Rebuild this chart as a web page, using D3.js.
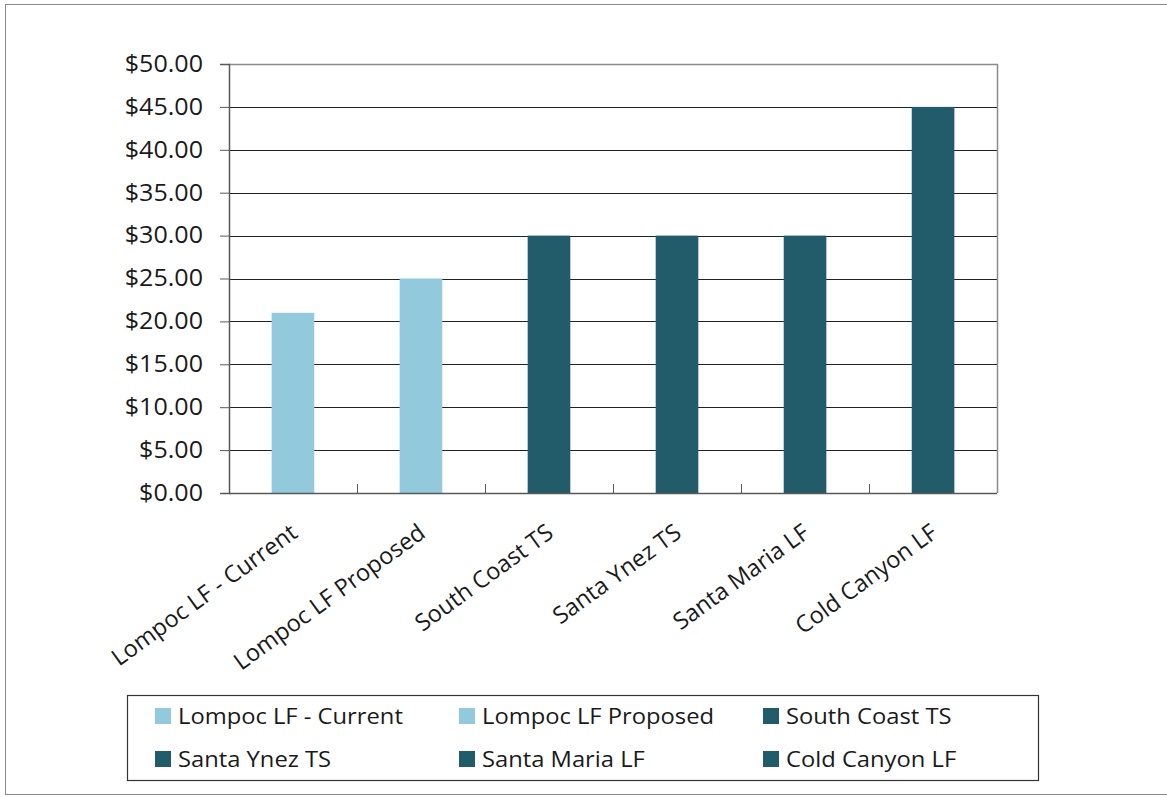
<!DOCTYPE html>
<html><head><meta charset="utf-8">
<script src="https://cdn.jsdelivr.net/npm/d3@7"></script>
<style>body{margin:0;background:#fff;} svg{display:block;} text{font-family:"Open Sans",sans-serif;fill:#1a1a1a;}</style>
</head><body>
<svg id="c" width="1167" height="797"></svg>
<script>
const categories = ["Lompoc LF - Current","Lompoc LF Proposed","South Coast TS","Santa Ynez TS","Santa Maria LF","Cold Canyon LF"];
const values = [21, 25, 30, 30, 30, 45];
const seriesColors = ["#92C9DC","#92C9DC","#225B69","#225B69","#225B69","#225B69"];
const yTicks = [0,5,10,15,20,25,30,35,40,45,50];

const svg = d3.select("#c");
// outer frame
svg.append("rect").attr("x",5.5).attr("y",4.5).attr("width",1170).attr("height",790)
  .attr("fill","none").attr("stroke","#8a8a8a").attr("stroke-width",1);

const m = {l:229, r:997, t:64, b:493};
const x = d3.scaleBand().domain(categories).range([m.l,m.r]).paddingInner(0.667).paddingOuter(0.333);
const xb = d3.scaleBand().domain(categories).range([m.l,m.r]);
const y = d3.scaleLinear().domain([0,50]).range([m.b,m.t]);

// gridlines
svg.append("g").selectAll("line").data(yTicks.filter(d=>d>0 && d<50)).join("line")
  .attr("x1",m.l).attr("x2",m.r).attr("y1",d=>Math.round(y(d))+0.5).attr("y2",d=>Math.round(y(d))+0.5)
  .attr("stroke","#222").attr("stroke-width",1);
// plot border top/right
svg.append("path").attr("d",`M${m.l},${m.t+0.5}H${m.r+0.5}V${m.b}`).attr("fill","none").attr("stroke","#8c8c8c").attr("stroke-width",1.5);

// bars
svg.append("g").selectAll("rect").data(values).join("rect")
  .attr("x",(d,i)=>x(categories[i])).attr("width",x.bandwidth())
  .attr("y",d=>y(d)).attr("height",d=>y(0)-y(d))
  .attr("fill",(d,i)=>seriesColors[i]);

// y axis
const yAxis = d3.axisLeft(y).tickValues(yTicks).tickSize(9).tickPadding(16).tickFormat(d=>"$"+d3.format(".2f")(d));
const gy = svg.append("g").attr("transform",`translate(${m.l},0)`).call(yAxis);
gy.select(".domain").attr("stroke","#595959").attr("stroke-width",1.5);
gy.selectAll(".tick line").attr("stroke","#595959");
gy.selectAll(".tick text").attr("font-size",23).attr("fill","#1a1a1a").attr("font-family","'Open Sans',sans-serif")
  .attr("x",0).attr("transform","translate(-26,0) scale(1.09,1)");

// x axis (ticks inside, at category boundaries)
svg.append("line").attr("x1",m.l).attr("x2",m.r).attr("y1",m.b+0.5).attr("y2",m.b+0.5).attr("stroke","#595959").attr("stroke-width",1.5);
svg.append("g").selectAll("line").data(categories.slice(1)).join("line")
  .attr("x1",d=>xb(d)+0.5).attr("x2",d=>xb(d)+0.5).attr("y1",m.b).attr("y2",m.b-9)
  .attr("stroke","#595959");

// x labels
svg.append("g").selectAll("text").data(categories).join("text")
  .attr("transform",d=>`translate(${xb(d)+xb.bandwidth()/2+6},${m.b+43}) rotate(-36)`)
  .attr("text-anchor","end").attr("font-size",23.5).text(d=>d);

// legend
const lg = svg.append("g");
lg.append("rect").attr("x",127.5).attr("y",695.5).attr("width",911).attr("height",85)
  .attr("fill","#fff").attr("stroke","#333").attr("stroke-width",1.2);
const item = lg.selectAll("g").data(categories).join("g")
  .attr("transform",(d,i)=>`translate(${155+(i%3)*304},${(i<3?716:759)})`);
item.append("rect").attr("x",0).attr("y",-8).attr("width",16).attr("height",16).attr("fill",(d,i)=>seriesColors[i]);
item.append("text").attr("transform","translate(23,0) scale(1.08,1)").attr("dy","0.35em").attr("font-size",22).text(d=>d);
</script>
</body></html>
